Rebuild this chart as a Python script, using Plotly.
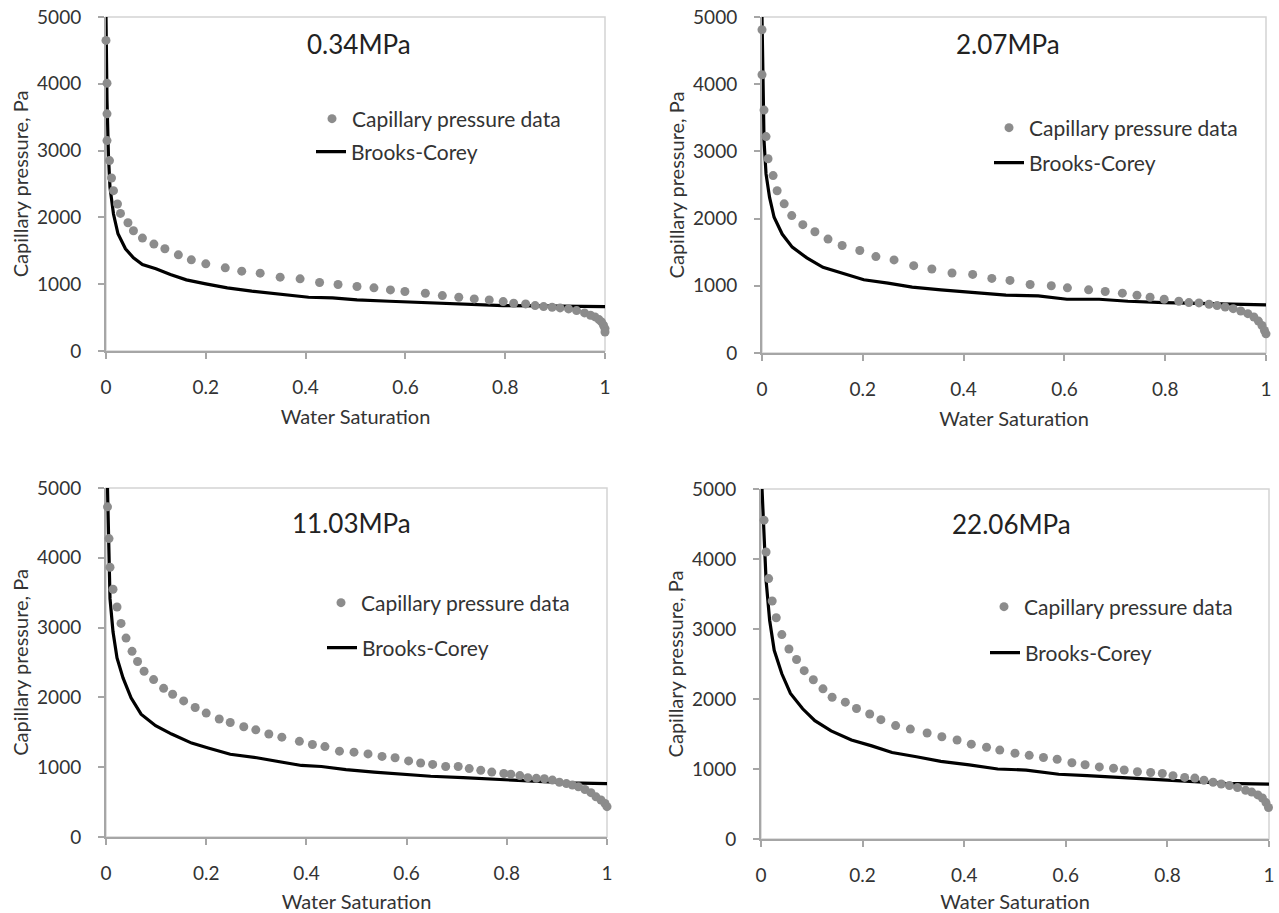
import plotly.graph_objects as go

W, H = 1279, 913

# ---------------- data ----------------
titles = ["0.34MPa", "2.07MPa", "11.03MPa", "22.06MPa"]

p1_sw = [0.000,0.002,0.002,0.002,0.007,0.011,0.015,0.023,0.029,0.044,0.055,0.073,0.096,0.118,0.145,0.171,0.200,0.239,0.272,0.309,0.349,0.389,0.428,0.465,0.503,0.537,0.570,0.599,0.640,0.674,0.707,0.738,0.768,0.796,0.817,0.841,0.860,0.877,0.894,0.910,0.927,0.943,0.959,0.971,0.980,0.988,0.993,0.997,1.000,1.000]
p1_pc = [4650,4010,3550,3150,2850,2590,2400,2200,2060,1920,1800,1690,1600,1530,1440,1365,1305,1245,1195,1165,1105,1080,1025,995,965,945,915,890,865,830,805,780,765,740,715,705,680,665,655,645,630,605,570,535,510,470,435,385,335,285]
p1_bc_sw = [0.000,0.002,0.005,0.008,0.015,0.024,0.039,0.055,0.073,0.100,0.129,0.161,0.200,0.243,0.292,0.349,0.406,0.454,0.503,0.568,0.634,0.682,0.731,0.796,0.861,0.927,1.000]
p1_bc_pc = [5000,3745,2900,2450,2050,1755,1530,1395,1295,1230,1145,1065,1005,945,895,845,805,795,765,745,725,715,695,680,675,665,665]

p2_sw = [0.000,0.000,0.004,0.008,0.012,0.022,0.030,0.044,0.059,0.081,0.105,0.131,0.159,0.194,0.226,0.262,0.301,0.337,0.377,0.418,0.456,0.492,0.532,0.574,0.606,0.648,0.681,0.715,0.744,0.770,0.798,0.827,0.847,0.867,0.887,0.903,0.919,0.935,0.950,0.964,0.976,0.985,0.992,0.997,1.000]
p2_pc = [4810,4140,3615,3220,2890,2640,2415,2220,2045,1910,1805,1695,1600,1525,1435,1385,1300,1250,1190,1170,1110,1080,1020,1000,970,940,915,890,860,830,800,770,750,745,725,705,685,660,625,585,535,475,410,335,285]
p2_bc_sw = [0.000,0.002,0.004,0.008,0.015,0.024,0.040,0.060,0.089,0.121,0.161,0.202,0.250,0.298,0.355,0.419,0.484,0.548,0.605,0.669,0.726,0.798,0.871,0.935,1.000]
p2_bc_pc = [5000,4000,3160,2665,2315,2020,1770,1575,1415,1275,1180,1090,1040,980,940,900,860,850,800,800,770,750,735,725,715]

p3_sw = [0.003,0.006,0.008,0.014,0.022,0.030,0.040,0.052,0.063,0.076,0.095,0.115,0.133,0.155,0.178,0.200,0.226,0.248,0.275,0.299,0.325,0.351,0.386,0.412,0.437,0.466,0.495,0.523,0.551,0.577,0.604,0.628,0.652,0.678,0.703,0.725,0.748,0.770,0.794,0.808,0.826,0.842,0.859,0.875,0.891,0.905,0.919,0.931,0.943,0.956,0.968,0.978,0.988,0.996,1.000]
p3_pc = [4730,4275,3865,3550,3295,3060,2850,2660,2515,2375,2255,2130,2045,1950,1855,1775,1690,1640,1580,1535,1475,1430,1370,1325,1295,1230,1215,1190,1155,1135,1090,1060,1040,1010,1010,980,955,930,910,900,880,850,840,835,815,785,765,745,720,680,635,575,530,480,435]
p3_bc_sw = [0.003,0.006,0.008,0.014,0.022,0.034,0.050,0.070,0.099,0.131,0.171,0.204,0.248,0.301,0.349,0.390,0.430,0.479,0.535,0.592,0.648,0.713,0.778,0.842,0.923,1.000]
p3_bc_pc = [5000,4030,3415,2940,2565,2280,1995,1760,1595,1475,1345,1275,1185,1135,1075,1025,1010,965,930,900,870,850,825,805,775,765]

p4_sw = [0.006,0.010,0.015,0.022,0.030,0.041,0.055,0.070,0.085,0.103,0.122,0.140,0.166,0.188,0.214,0.236,0.265,0.294,0.327,0.356,0.386,0.414,0.444,0.470,0.500,0.528,0.556,0.583,0.612,0.638,0.666,0.694,0.715,0.741,0.767,0.790,0.811,0.834,0.854,0.872,0.890,0.906,0.922,0.938,0.954,0.966,0.978,0.987,0.994,0.999]
p4_pc = [4555,4100,3720,3400,3160,2920,2715,2565,2405,2275,2145,2025,1955,1865,1785,1705,1620,1570,1515,1460,1415,1355,1310,1270,1225,1195,1165,1140,1090,1060,1030,1010,985,960,950,935,905,880,870,840,810,785,765,735,695,670,630,585,520,450]
p4_bc_sw = [0.002,0.006,0.010,0.017,0.026,0.041,0.058,0.082,0.106,0.138,0.178,0.218,0.258,0.306,0.354,0.410,0.466,0.522,0.586,0.642,0.706,0.770,0.834,0.914,1.000]
p4_bc_pc = [5000,4315,3695,3125,2695,2360,2080,1860,1690,1545,1415,1330,1235,1175,1110,1060,1000,985,925,905,880,855,820,795,785]

x_ticks = [0, 0.2, 0.4, 0.6, 0.8, 1]
x_tick_text = ["0", "0.2", "0.4", "0.6", "0.8", "1"]
y_ticks = [0, 1000, 2000, 3000, 4000, 5000]
y_tick_text = ["0", "1000", "2000", "3000", "4000", "5000"]

data_name = "Capillary pressure data"
fit_name = "Brooks-Corey"
x_title = "Water Saturation"
y_title = "Capillary pressure, Pa"

panels = [
    (p1_sw, p1_pc, p1_bc_sw, p1_bc_pc),
    (p2_sw, p2_pc, p2_bc_sw, p2_bc_pc),
    (p3_sw, p3_pc, p3_bc_sw, p3_bc_pc),
    (p4_sw, p4_pc, p4_bc_sw, p4_bc_pc),
]

# ---------------- layout (pixel geometry) ----------------
FONT = "Lato, 'Open Sans', sans-serif"
TXT = "#333333"
boxes = [(106, 605, 17, 351), (762, 1266, 17, 353), (106, 607, 488, 837), (761, 1269, 489, 839)]
title_pos = [(359, 44), (1008, 44), (352, 523), (1012, 524)]
leg_marker = [(334, 119), (1011, 128), (343, 603), (1006, 607)]
leg_line = [(318, 152), (996, 163), (329, 648), (992, 653)]

fig = go.Figure()
layout = dict(
    width=W, height=H, autosize=False,
    margin=dict(l=0, r=0, t=0, b=0, pad=0),
    paper_bgcolor="white", plot_bgcolor="white",
    font=dict(family=FONT, size=19, color=TXT),
    showlegend=True,
    shapes=[], annotations=[],
)

for i, (sw, pc, bsw, bpc) in enumerate(panels):
    k = i + 1
    sx = "" if k == 1 else str(k)
    l, r, t, b = boxes[i]
    xd = [l / W, r / W]
    yd = [1 - b / H, 1 - t / H]
    axis_common = dict(
        showgrid=False, zeroline=False, showline=True, linecolor="#a6a6a6", linewidth=2,
        ticks="outside", ticklen=6, tickwidth=1.5, tickcolor="#a6a6a6",
        tickfont=dict(family=FONT, size=19, color=TXT), layer="below traces",
        automargin=False,
    )
    layout["xaxis" + sx] = dict(
        axis_common, domain=xd, anchor="y" + sx, range=[0, 1],
        tickvals=x_ticks, ticktext=x_tick_text, ticklabelstandoff=12,
        title=dict(text=x_title, font=dict(family=FONT, size=20, color=TXT), standoff=13),
    )
    layout["yaxis" + sx] = dict(
        axis_common, domain=yd, anchor="x" + sx, range=[0, 5000],
        tickvals=y_ticks, ticktext=y_tick_text, ticklabelstandoff=13,
        title=dict(text=y_title, font=dict(family=FONT, size=20, color=TXT), standoff=3),
    )
    layout["shapes"].append(dict(
        type="rect", xref="x" + sx + " domain", yref="y" + sx + " domain",
        x0=0, x1=1, y0=0, y1=1, line=dict(color="#d4d4d4", width=1.5), layer="below",
    ))
    tx, ty = title_pos[i]
    layout["annotations"].append(dict(
        text=titles[i], x=tx / W, y=1 - ty / H, xref="paper", yref="paper",
        showarrow=False, font=dict(family=FONT, size=26, color="#222222"),
        xanchor="center", yanchor="middle",
    ))
    lm = "legend" if k == 1 else "legend%d" % (2 * k - 1)
    ll = "legend%d" % (2 * k)
    mx, my = leg_marker[i]
    lx, ly = leg_line[i]
    layout[lm] = dict(x=(mx - 22) / W, y=1 - my / H, xanchor="left", yanchor="middle",
                      bgcolor="rgba(0,0,0,0)", font=dict(family=FONT, size=21, color=TXT))
    layout[ll] = dict(x=(lx - 7) / W, y=1 - ly / H, xanchor="left", yanchor="middle",
                      bgcolor="rgba(0,0,0,0)", font=dict(family=FONT, size=21, color=TXT))

    fig.add_trace(go.Scatter(
        x=bsw, y=bpc, mode="lines", name=fit_name,
        line=dict(color="black", width=3.2), xaxis="x" + sx, yaxis="y" + sx,
        legend=ll,
    ))
    fig.add_trace(go.Scatter(
        x=sw, y=pc, mode="markers", name=data_name,
        marker=dict(color="#8c8c8c", size=9), xaxis="x" + sx, yaxis="y" + sx,
        cliponaxis=False, legend=lm,
    ))

fig.update_layout(**layout)
fig.write_html("out.html")
